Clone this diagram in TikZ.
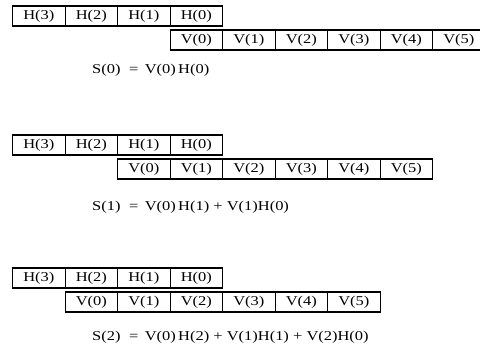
\documentclass[tikz,border=0pt]{standalone}
\usepackage{fontspec}
\setmainfont{Liberation Serif}[FakeStretch=1.22]
\usetikzlibrary{positioning}

\begin{document}
\begin{tikzpicture}[
    x=1pt,
    y=-1pt,
    cellule/.style={
        draw,
        line width=1.1pt,
        minimum width=52.5pt,
        minimum height=20pt,
        inner sep=0pt,
        anchor=west,
        font=\fontsize{13.5}{15}\selectfont
    },
    formule/.style={
        anchor=west,
        inner sep=0pt,
        font=\fontsize{13.5}{15}\selectfont
    }
]
\useasboundingbox (0,0) rectangle (480,349);

% Shift k: H row fixed, V row moved left by k cells
\foreach \k/\yh in {0/16, 1/145, 2/278} {
    \foreach \i in {0,...,3}
        \node[cellule] (h\k\i) at ({169.5-52.5*\i},\yh) {H(\i)};
    \foreach \j in {0,...,5}
        \node[cellule] (v\k\j) at ({169.5-52.5*\k+52.5*\j},\yh+24) {V(\j)};
}

% Sums
\node[formule] (s0) at (92,70) {S(0)\,\, = \,V(0)\,H(0)};
\node[formule] (s1) at (92,207) {S(1)\,\, = \,V(0)\,H(1) + V(1)H(0)};
\node[formule] (s2) at (92,337) {S(2)\,\, = \,V(0)\,H(2) + V(1)H(1) + V(2)H(0)};

\end{tikzpicture}
\end{document}
